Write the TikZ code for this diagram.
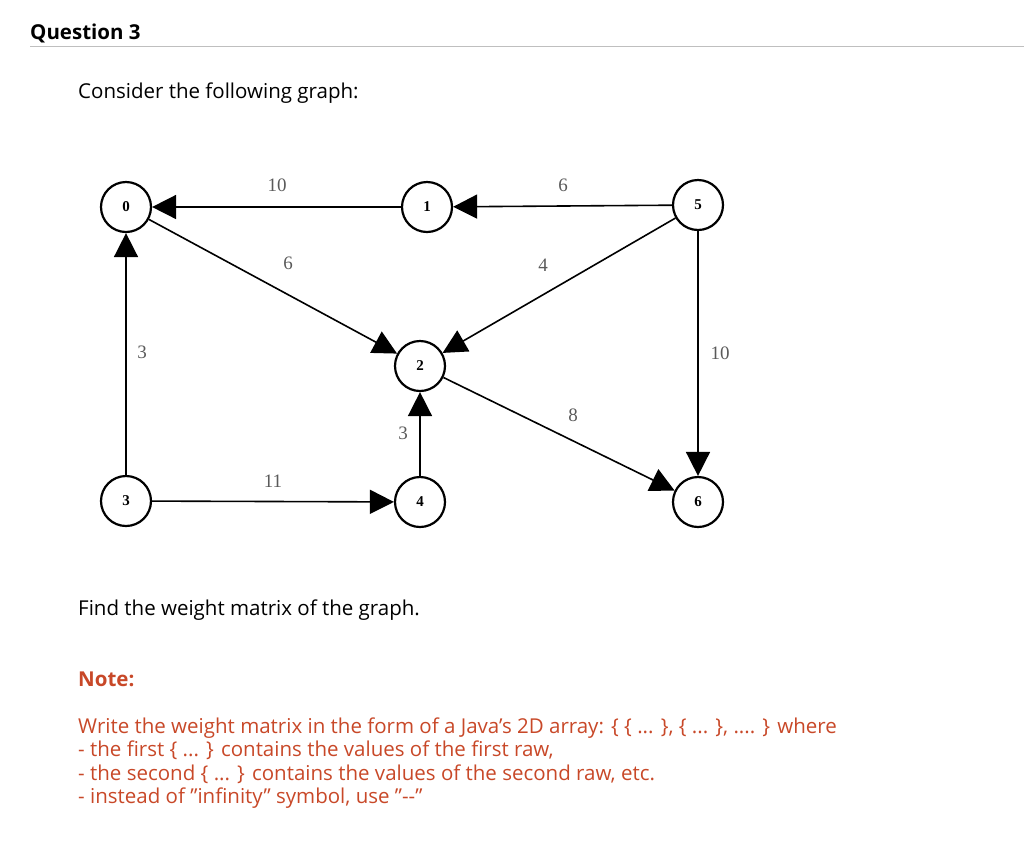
\documentclass[tikz,border=0pt]{standalone}
\usepackage{fontspec}
\setmainfont{Open Sans}
\newfontfamily\graphfont{Liberation Serif}
\usetikzlibrary{arrows.meta, positioning}
\definecolor{notered}{RGB}{200,72,40}
\definecolor{wgray}{RGB}{90,90,90}
\newcommand{\dq}{\char34\relax}
\tikzset{
  vertex/.style = {circle, draw, line width=2.2pt, minimum size=50pt, inner sep=0pt, font=\graphfont\bfseries\fontsize{15}{15}\selectfont},
  edge/.style = {line width=1.6pt, -{Triangle[length=24pt, width=24pt]}},
  wt/.style = {font=\graphfont\fontsize{19}{19}\selectfont, text=wgray},
  txt/.style = {anchor=base west, inner sep=0pt, font=\fontsize{20.5}{24}\selectfont}
}
\begin{document}
\begin{tikzpicture}[x=1pt, y=-1pt]
\useasboundingbox (0,0) rectangle (1024,855);
% header
\node[txt, font=\bfseries\fontsize{20.5}{24}\selectfont] (title) at (30,39) {Question 3};
\draw[black!25, line width=1pt] (30,46) -- (1024,46);
\node[txt] (intro) at (78,98) {Consider the following graph:};
% vertices
\node[vertex] (v0) at (126,207) {0};
\node[vertex] (v1) at (427,207) {1};
\node[vertex] (v5) at (698,205) {5};
\node[vertex] (v2) at (420,366) {2};
\node[vertex] (v3) at (126,501) {3};
\node[vertex] (v4) at (420,502) {4};
\node[vertex] (v6) at (698,502) {6};
% edges
\draw[edge] (v1) -- (v0);
\draw[edge] (v5) -- (v1);
\draw[edge] (v0) -- (v2);
\draw[edge] (v5) -- (v2);
\draw[edge] (v5) -- (v6);
\draw[edge] (v3) -- (v0);
\draw[edge] (v4) -- (v2);
\draw[edge] (v3) -- (v4);
\draw[edge] (v2) -- (v6);
% weights
\node[wt] (w10) at (277,185) {10};
\node[wt] (w6a) at (563,185) {6};
\node[wt] (w6b) at (288,263) {6};
\node[wt] (w4) at (543,265) {4};
\node[wt] (w3a) at (142,352) {3};
\node[wt] (w10b) at (720,353) {10};
\node[wt] (w8) at (573,415) {8};
\node[wt] (w3b) at (403,433) {3};
\node[wt] (w11) at (273,481) {11};
% question text
\node[txt] (find) at (78,615) {Find the weight matrix of the graph.};
\node[txt, text=notered, font=\bfseries\fontsize{20.5}{24}\selectfont] (note) at (78,686) {Note:};
\node[txt, text=notered] (l1) at (78,733) {Write the weight matrix in the form of a Java's 2D array: \{ \{ ... \}, \{ ... \}, .... \} where};
\node[txt, text=notered] (l2) at (78,756) {- the first \{ ... \} contains the values of the first raw,};
\node[txt, text=notered] (l3) at (78,780) {- the second \{ ... \} contains the values of the second raw, etc.};
\node[txt, text=notered] (l4) at (78,803) {- instead of \dq infinity\dq{} symbol, use \dq{-}{-}\dq};
\end{tikzpicture}
\end{document}
